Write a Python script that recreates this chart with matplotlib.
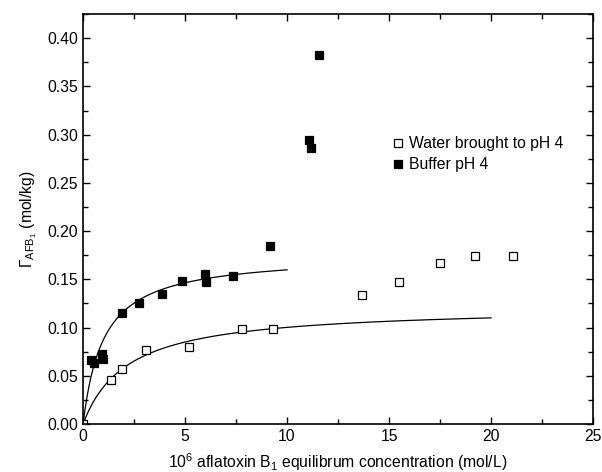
import numpy as np
import matplotlib
matplotlib.use("Agg")
import matplotlib.pyplot as plt
from matplotlib.ticker import MultipleLocator

plt.rcParams["font.family"] = ["Liberation Sans", "DejaVu Sans"]
plt.rcParams["mathtext.fontset"] = "custom"
plt.rcParams["mathtext.rm"] = "Liberation Sans"
plt.rcParams["mathtext.it"] = "Liberation Sans:italic"

# buffer pH 4 (filled squares)
buffer_x = [0.39, 0.54, 0.93, 0.98, 1.9, 2.75, 3.86, 4.83, 5.98, 6.03, 7.37, 9.17, 11.08, 11.18, 11.57]
buffer_y = [0.066, 0.063, 0.073, 0.067, 0.115, 0.125, 0.135, 0.148, 0.156, 0.147, 0.153, 0.185, 0.294, 0.286, 0.383]

# water brought to pH 4 (open squares)
water_x = [0.0, 1.37, 1.9, 3.08, 5.18, 7.8, 9.3, 13.7, 15.5, 17.5, 19.2, 21.1]
water_y = [0.0, 0.046, 0.057, 0.077, 0.080, 0.099, 0.099, 0.134, 0.147, 0.167, 0.174, 0.174]

# Langmuir fits: q = qm*K*c/(1+K*c)
buffer_qm, buffer_K, buffer_cmax = 0.176, 0.99, 10.0
water_qm, water_K, water_cmax = 0.122, 0.46, 20.0


def langmuir(c, qm, K):
    return qm * K * c / (1 + K * c)


fs = 11.3

fig = plt.figure(figsize=(6.02, 4.72), dpi=100)
ax = fig.add_axes([0.138, 0.1017, 0.847, 0.8683])

c1 = np.linspace(0, buffer_cmax, 200)
c2 = np.linspace(0, water_cmax, 200)
ax.plot(c1, langmuir(c1, buffer_qm, buffer_K), color="black", lw=0.9)
ax.plot(c2, langmuir(c2, water_qm, water_K), color="black", lw=0.9)

ax.plot(water_x, water_y, ls="none", marker="s", ms=6.2, mfc="white",
        mec="black", mew=0.9, label="Water brought to pH 4")
ax.plot(buffer_x, buffer_y, ls="none", marker="s", ms=6.2, mfc="black",
        mec="black", mew=0.9, label="Buffer pH 4")

ax.set_xlim(0, 25)
ax.set_ylim(0, 0.425)
ax.xaxis.set_major_locator(MultipleLocator(5))
ax.xaxis.set_minor_locator(MultipleLocator(2.5))
ax.yaxis.set_major_locator(MultipleLocator(0.05))
ax.yaxis.set_minor_locator(MultipleLocator(0.025))
ax.yaxis.set_major_formatter(plt.FuncFormatter(lambda v, p: f"{v:.2f}"))
ax.tick_params(which="both", direction="in", top=True, right=True, labelsize=fs)
ax.tick_params(which="major", length=5, width=1)
ax.tick_params(which="minor", length=3.5, width=1)
for s in ax.spines.values():
    s.set_linewidth(1.2)

ax.set_xlabel(r"10$^6$ aflatoxin B$_1$ equilibrum concentration (mol/L)", fontsize=fs, labelpad=5)
ax.set_ylabel(r"$\Gamma_{\mathrm{AFB}_1}$ (mol/kg)", fontsize=fs, labelpad=6)

ax.legend(loc="upper left", bbox_to_anchor=(0.597, 0.718), frameon=False, fontsize=fs,
          handlelength=0.6, handletextpad=0.4, borderaxespad=0, labelspacing=0.4,
          markerscale=0.85)

fig.savefig("out.png", dpi=100)
